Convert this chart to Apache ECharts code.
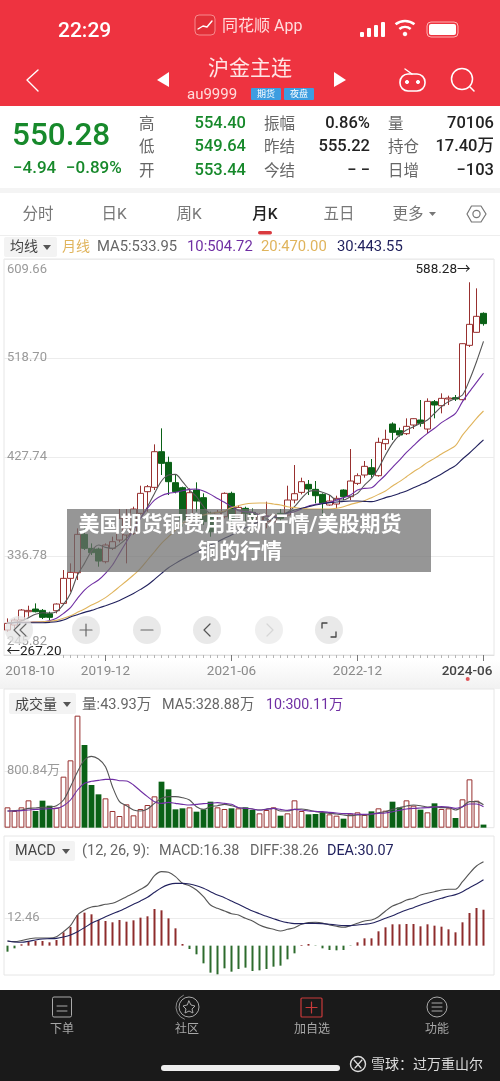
<!DOCTYPE html>
<html>
<head>
<meta charset="utf-8"/>
<title>沪金主连 月K</title>
<style>
    html, body { margin: 0; padding: 0; background: #fff; }
    #main { width: 500px; height: 1081px; }
</style>
</head>
<body>
<div id="main"></div>
<script src="https://cdn.jsdelivr.net/npm/echarts@6/dist/echarts.min.js"></script>
<script>
// months 2018-10 .. 2024-06, plus one empty slot so the panel runs a little past the last bar
var months = [];
for (var y = 2018, m = 10; y < 2024 || m <= 6; m++) {
    if (m > 12) { m = 1; y++; }
    months.push(y + '-' + (m < 10 ? '0' + m : m));
}
months.push('');
var dateTicks = ['2018-10', '2019-12', '2021-06', '2022-12', '2024-06'];

var opens = [268.75,273.35,277.94,285.60,288.05,286.82,283.77,286.52,293.25,316.23,
    321.43,356.66,343.80,343.18,331.54,343.80,351.45,356.05,357.58,375.96,
    395.87,399.85,432.62,422.83,404.14,399.54,368.30,397.40,390.36,374.43,
    375.04,372.90,394.34,373.81,380.56,376.88,368.30,368.30,368.30,375.96,
    374.43,388.21,395.25,402.61,398.01,393.41,383.62,384.54,397.40,391.27,
    403.52,411.18,417.92,410.57,439.98,458.05,451.92,449.16,457.13,461.72,
    453.45,478.57,474.89,481.02,482.24,480.41,530.33,542.28,559.74];
var closes = [274.88,277.94,287.13,286.82,285.60,280.39,280.39,292.65,316.23,321.74,
    356.66,343.80,339.81,332.14,346.86,349.92,371.36,369.83,379.94,394.34,
    400.46,432.62,421.90,405.06,395.87,369.83,394.95,387.29,368.30,359.11,
    376.88,394.34,371.36,381.47,375.96,371.36,372.90,373.51,374.43,371.36,
    388.21,394.03,405.06,398.32,392.19,385.15,387.29,389.74,391.27,405.67,
    410.57,419.15,411.79,441.20,443.96,450.39,447.94,455.90,462.95,458.66,
    478.87,475.50,481.63,481.94,481.02,531.86,549.63,556.98,550.28];
var lows = [267.20,270.28,277.02,281.00,284.98,278.86,277.94,284.07,292.34,303.98,
    314.70,342.27,337.67,326.95,330.01,342.27,349.31,330.01,356.05,374.43,
    377.49,397.40,411.18,392.81,394.34,363.70,359.11,377.49,365.23,354.52,
    368.30,371.36,365.23,371.36,368.30,363.70,359.11,362.17,365.23,368.30,
    372.90,385.15,393.41,392.81,385.15,372.90,383.01,380.56,388.21,388.21,
    401.99,408.73,408.73,409.65,434.16,443.34,446.41,447.94,453.45,455.60,
    449.47,463.25,467.84,475.50,479.18,479.79,528.80,541.97,548.40];
var highs = [279.47,279.47,288.05,291.11,293.25,288.05,285.60,293.25,323.89,330.01,
    362.17,364.62,348.39,344.41,348.39,354.52,379.94,379.94,382.08,401.38,
    401.99,439.36,454.06,428.03,411.18,400.46,398.93,404.45,394.34,377.49,
    379.02,395.25,395.87,383.62,382.08,380.56,375.96,386.68,375.96,379.94,
    401.38,420.37,408.73,406.59,405.67,394.34,392.81,392.19,398.01,435.07,
    412.71,424.05,425.88,445.49,452.84,459.58,454.67,463.25,463.25,480.10,
    481.63,480.10,486.23,484.08,484.69,532.17,588.28,582.71,560.66];

var ma5 = [274.9,275.8,277.0,280.1,283.2,284.7,284.4,285.6,292.3,302.4,
    319.3,330.0,341.3,346.9,344.7,343.8,347.5,353.0,360.7,371.4,
    382.1,394.3,405.7,411.2,411.8,405.1,397.4,391.3,382.1,376.0,
    376.6,377.5,382.1,379.0,377.5,376.9,374.4,371.4,372.9,374.4,
    376.9,382.1,389.7,395.9,396.8,395.3,392.8,388.2,388.2,391.3,
    394.3,402.0,408.1,417.3,429.6,440.3,447.9,452.5,455.6,458.7,
    461.7,467.8,474.0,478.6,481.6,484.7,498.5,515.3,533.95];
var ma10 = [275.5,275.8,275.8,275.8,276.1,276.4,277.3,279.5,284.1,289.3,
    297.9,305.5,310.7,314.7,320.8,328.5,339.2,349.9,360.7,371.4,
    380.6,388.2,392.2,394.3,395.3,396.8,398.0,398.3,396.5,393.4,
    389.7,386.1,382.1,378.4,377.5,376.9,374.4,373.5,372.9,372.9,
    376.0,377.5,379.9,382.7,384.2,385.2,386.1,388.2,390.4,392.8,
    397.4,398.9,399.5,405.1,411.2,418.2,424.9,432.0,438.1,444.3,
    449.5,454.1,459.3,463.3,467.8,478.6,487.8,496.3,504.72];
var ma20 = [275.5,275.8,275.8,275.8,276.1,276.4,276.7,277.6,279.5,281.9,
    285.0,288.1,291.7,294.8,298.5,303.4,308.6,313.8,319.3,325.4,
    333.1,340.7,348.4,354.5,360.7,366.8,369.8,372.9,374.4,376.0,
    376.9,378.1,381.2,383.0,384.5,385.2,385.5,385.5,384.5,383.6,
    382.1,381.2,380.6,379.9,379.9,379.9,379.9,380.6,382.1,384.2,
    385.8,387.6,390.4,393.4,396.5,401.1,405.1,409.6,414.2,418.2,
    422.8,426.5,430.5,434.2,438.1,447.9,455.6,463.3,470.00];
var ma30 = [275.2,275.5,275.5,275.5,275.5,275.5,275.8,276.4,277.9,280.7,
    282.8,285.0,286.8,289.0,291.1,293.3,296.0,299.1,302.4,306.1,
    310.1,315.3,320.8,326.0,330.0,333.7,337.1,340.4,343.8,346.9,
    349.9,353.0,356.1,359.7,362.8,365.8,368.3,369.8,371.4,373.5,
    376.6,379.0,380.6,382.1,383.6,384.8,385.8,386.4,387.0,387.3,
    387.3,387.0,386.7,388.2,390.4,392.2,394.3,396.5,399.5,402.3,
    405.1,408.7,412.1,416.1,419.8,425.9,431.4,437.5,443.55];

var volume = [290.8,238.4,290.8,390.9,238.4,386.1,314.6,286.0,729.4,962.9,
    1601.68,1182.2,610.2,476.7,419.5,238.4,166.8,333.7,176.4,267.0,
    324.2,448.1,657.8,548.2,262.2,276.5,290.8,228.8,262.2,371.8,
    290.8,267.0,276.5,276.5,290.8,252.7,205.0,252.7,290.8,171.6,
    205.0,390.9,238.4,190.7,195.4,209.7,190.7,171.6,128.7,200.2,
    219.3,181.1,233.6,276.5,243.1,371.8,290.8,390.9,314.6,257.4,
    219.3,348.0,267.0,276.5,138.2,405.2,691.2,386.1,43.93];
var volMa5 = [238.4,243.1,252.7,276.5,281.3,290.8,295.6,314.6,395.7,586.3,
    800.8,967.7,1020.1,982.0,872.4,586.3,371.8,314.6,252.7,238.4,
    267.0,348.0,419.5,443.3,443.3,429.0,395.7,300.3,262.2,300.3,
    314.6,333.7,314.6,286.0,276.5,267.0,252.7,267.0,276.5,238.4,
    238.4,262.2,267.0,252.7,228.8,219.3,205.0,195.4,181.1,171.6,
    181.1,181.1,190.7,214.5,228.8,262.2,286.0,309.9,324.2,314.6,
    295.6,300.3,286.0,286.0,252.7,300.3,371.8,371.8,328.88];
var volMa10 = [238.4,238.4,243.1,252.7,262.2,267.0,271.7,276.5,314.6,395.7,
    538.7,634.0,662.6,676.9,691.2,691.2,672.1,667.4,610.2,524.4,
    443.3,371.8,348.0,362.3,348.0,333.7,324.2,333.7,343.2,348.0,
    357.5,348.0,333.7,286.0,276.5,267.0,252.7,262.2,276.5,262.2,
    247.9,262.2,252.7,238.4,233.6,228.8,219.3,209.7,200.2,200.2,
    190.7,190.7,195.4,205.0,209.7,228.8,247.9,267.0,276.5,281.3,
    286.0,295.6,300.3,295.6,276.5,300.3,338.5,338.5,300.11];

var macdBars = [-2.74,-1.22,0.61,2.13,2.13,2.13,1.52,2.58,6.08,8.51,
    13.98,15.05,14.29,11.70,11.25,10.64,11.70,10.94,11.55,12.77,
    13.38,16.72,16.11,12.46,7.90,0.76,-1.52,-3.95,-8.06,-12.31,
    -13.07,-10.34,-11.86,-10.64,-10.03,-11.55,-11.25,-10.64,-9.58,-9.12,
    -6.23,-3.50,0.30,0.76,-0.15,-1.22,-1.98,-2.13,-1.98,-0.15,
    1.52,3.34,3.34,6.54,8.36,9.73,9.73,9.88,9.88,8.82,
    9.73,9.12,8.66,7.45,6.08,10.64,14.90,17.18,16.38];
var diffLine = [2.13,1.82,2.28,3.04,3.50,3.50,3.50,4.10,6.38,9.12,
    13.98,16.26,17.63,18.09,18.85,19.30,20.67,22.34,23.86,25.69,
    27.66,31.92,33.74,33.44,31.46,28.42,27.36,25.38,22.34,18.54,
    17.02,15.81,14.59,13.98,12.46,11.25,9.42,8.21,7.45,6.69,
    7.45,8.21,9.73,10.49,10.64,10.34,9.42,8.82,8.36,9.12,
    10.18,11.25,11.70,13.22,15.81,18.09,19.30,20.82,21.58,23.10,
    23.86,24.62,25.38,25.69,25.69,29.18,32.98,36.33,38.26];
var deaLine = [2.13,1.67,1.52,1.98,2.58,3.04,3.19,3.34,3.95,4.86,
    6.38,8.21,10.18,11.70,13.22,14.59,15.81,17.33,18.85,20.37,
    22.04,24.32,26.45,27.82,28.42,28.42,28.12,27.36,26.14,24.62,
    23.10,21.89,20.37,18.85,17.33,15.81,14.59,13.38,12.31,11.25,
    10.49,10.03,10.03,10.18,10.18,10.03,9.73,9.42,9.12,9.12,
    9.42,9.73,10.18,11.25,12.46,13.68,15.05,16.26,17.33,18.54,
    19.61,20.67,21.58,22.50,23.26,24.62,26.45,28.12,30.07];

var priceTicks = [245.82, 336.78, 427.74, 518.70, 609.66];
var volumeTicks = [800.84];
var macdTicks = [12.46];

var FONT = "Roboto, 'Noto Sans CJK SC', sans-serif";
var RED = '#ee3340', UP = '#98302f', DOWN = '#0a6116', GREEN = '#17892b';
var GREY = '#666', LABEL = '#9a9a9a', GOLD = '#e0b45c', PURPLE = '#6f2ea3', NAVY = '#22225e';

function txt(x, y, s, size, fill, extra) {
    // middle baseline sits a bit high for these fonts, so nudge down with the size
    var style = { x: x, y: y + size * 0.1, text: s, font: (extra && extra.weight || 400) + ' ' + size + 'px ' + FONT,
        fill: fill, textVerticalAlign: 'middle', textAlign: extra && extra.align || 'left' };
    return { type: 'text', z: 100, style: style };
}
function box(x, y, w, h, fill, r, z) {
    return { type: 'rect', z: z === undefined ? 100 : z, shape: { x: x, y: y, width: w, height: h, r: r || 0 }, style: { fill: fill } };
}
function poly(points, stroke, w, fill) {
    return { type: fill ? 'polygon' : 'polyline', z: 100, shape: { points: points },
        style: { stroke: stroke, lineWidth: w, fill: fill || null, lineCap: 'round', lineJoin: 'round' } };
}
function ring(cx, cy, r, stroke, w, fill) {
    return { type: 'circle', z: 100, shape: { cx: cx, cy: cy, r: r }, style: { stroke: stroke, lineWidth: w, fill: fill || null } };
}

var graphics = [
    // page bands behind the panels
    box(0, 0, 500, 106, RED, 0, 100),
    box(0, 188, 500, 5, '#f4f4f4', 0, -1),
    box(0, 235, 500, 1, '#eeeeee', 0, -1),
    box(0, 660, 500, 29, new echarts.graphic.LinearGradient(0, 0, 0, 1, [
        { offset: 0, color: '#ffffff' }, { offset: 1, color: '#f1f1f1' }]), 0, -1),
    box(0, 976, 500, 14, '#ffffff', 0, -1),
    // status bar
    txt(58, 30, '22:29', 21, '#fff', { weight: 500 }),
    { type: 'rect', z: 100, shape: { x: 195, y: 15, width: 20, height: 20, r: 4 }, style: { fill: '#e23039', stroke: '#f78a8e', lineWidth: 1 } },
    poly([[198, 29], [203, 26], [207, 27], [212, 21]], '#fff', 1.4),
    txt(222, 25, '同花顺 App', 16, '#ffdcdc'),
    box(360, 32, 4, 5, '#fff', 1), box(367, 28, 4, 9, '#fff', 1),
    box(374, 25, 4, 12, '#fff', 1), box(381, 22, 4, 15, '#fff', 1),
    { type: 'arc', z: 100, shape: { cx: 405, cy: 36, r: 15, startAngle: -2.25, endAngle: -0.89 }, style: { stroke: '#fff', lineWidth: 2.6, fill: null } },
    { type: 'arc', z: 100, shape: { cx: 405, cy: 36, r: 9, startAngle: -2.25, endAngle: -0.89 }, style: { stroke: '#fff', lineWidth: 2.6, fill: null } },
    ring(405, 34, 1.8, '#fff', 1, '#fff'),
    { type: 'rect', z: 100, shape: { x: 427, y: 22, width: 31, height: 15, r: 4 }, style: { stroke: '#ffb3b3', lineWidth: 1, fill: null } },
    box(429, 24, 27, 11, '#fff', 2),
    // title bar
    poly([[38, 70], [27, 80], [38, 91]], '#fff', 1.4),
    poly([[169, 72], [157, 80], [169, 87]], '#fff', 0, '#fff'),
    txt(250, 68, '沪金主连', 21, '#ffe4e4', { align: 'center' }),
    poly([[334, 72], [346, 80], [334, 87]], '#fff', 0, '#fff'),
    txt(187, 94, 'au9999', 15, '#ffdcdc'),
    box(251, 88, 30, 12, '#3d9de0', 1),
    txt(266, 94, '期货', 9, '#fff', { align: 'center' }),
    box(284, 88, 30, 12, '#3d9de0', 1),
    txt(299, 94, '夜盘', 9, '#fff', { align: 'center' }),
    { type: 'rect', z: 100, shape: { x: 400, y: 74, width: 25, height: 17, r: 8 }, style: { stroke: '#fff', lineWidth: 1.6, fill: null } },
    ring(407, 82, 1.6, '#fff', 1, '#fff'), ring(418, 82, 1.6, '#fff', 1, '#fff'),
    poly([[412, 74], [405, 69]], '#fff', 1.4),
    ring(462, 79, 10.5, '#fff', 1.5),
    poly([[470, 87], [474, 91]], '#fff', 1.5),
    // quote block
    txt(12, 134, '550.28', 31.5, GREEN, { weight: 500 }),
    txt(13, 167.5, '−4.94', 17, GREEN, { weight: 500 }),
    txt(66, 167.5, '−0.89%', 17, GREEN, { weight: 500 })
];

var quoteRows = [124, 147, 171];
var quoteCols = [
    { x: 139, names: ['高', '低', '开'], right: 246, vals: ['554.40', '549.64', '553.44'], color: GREEN },
    { x: 264, names: ['振幅', '昨结', '今结'], right: 370, vals: ['0.86%', '555.22', '− −'], color: '#222' },
    { x: 388, names: ['量', '持仓', '日增'], right: 494, vals: ['70106', '17.40万', '−103'], color: '#222' }
];
quoteCols.forEach(function (col) {
    quoteRows.forEach(function (ry, k) {
        graphics.push(txt(col.x, ry, col.names[k], 15.5, '#666'));
        graphics.push(txt(col.right, ry - 1.5, col.vals[k], 16.5, col.color, { weight: 500, align: 'right' }));
    });
});

var tabNames = [['分时', 38], ['日K', 114], ['周K', 189], ['月K', 265], ['五日', 339], ['更多', 408]];
tabNames.forEach(function (tab) {
    var on = tab[0] === '月K';
    graphics.push(txt(tab[1], 214, tab[0], 15.5, on ? '#222' : '#777', { align: 'center', weight: on ? 500 : 400 }));
});
graphics = graphics.concat([
    poly([[429, 212], [436, 212], [432.5, 216]], '#777', 0, '#777'),
    poly([[467, 214], [471.5, 206], [481, 206], [486, 214], [481, 222], [471.5, 222]], '#777', 1.2, '#fff'),
    ring(476.5, 214, 3.6, '#777', 1.2),
    box(258, 231, 14, 3.5, '#d93a3f', 1.7),
    // price legend
    box(4, 237, 53, 20, '#f3f3f3', 2),
    txt(10, 246, '均线', 14, '#444'),
    poly([[43, 245], [51, 245], [47, 250]], '#555', 0, '#555'),
    txt(62, 246, '月线', 14, GOLD),
    txt(97, 246, 'MA5:533.95', 14.8, GREY),
    txt(187, 246, '10:504.72', 14.8, PURPLE),
    txt(261, 246, '20:470.00', 14.8, GOLD),
    txt(337, 246, '30:443.55', 14.8, NAVY),
    ring(467.7, 679, 2, '#e0555a', 0, '#e0555a'),
    // volume legend
    box(9, 693, 67, 21, '#f3f3f3', 2),
    txt(15, 704, '成交量', 14, '#444'),
    poly([[63, 702], [71, 702], [67, 707]], '#555', 0, '#555'),
    txt(82, 704, '量:43.93万', 14.6, GREY),
    txt(162, 704, 'MA5:328.88万', 14.4, GREY),
    txt(266, 704, '10:300.11万', 14.2, PURPLE),
    // macd legend
    box(9, 841, 66, 20, '#f3f3f3', 2),
    txt(15, 850, 'MACD', 14.4, '#444'),
    poly([[62, 849], [70, 849], [66, 854]], '#555', 0, '#555'),
    txt(82, 850, '(12, 26, 9):', 14.6, GREY),
    txt(159, 850, 'MACD:16.38', 14.4, GREY),
    txt(250, 850, 'DIFF:38.26', 14.4, GREY),
    txt(327, 850, 'DEA:30.07', 14.4, NAVY),
    // floating chart buttons
    ring(19, 630, 14, '#ededed', 0, 'rgba(228,228,228,0.75)'),
    poly([[20, 624], [14, 630], [20, 636]], '#666', 1.1), poly([[26, 624], [20, 630], [26, 636]], '#666', 1.1),
    ring(86, 630, 14, '#ededed', 0, 'rgba(232,232,232,0.95)'),
    poly([[80, 630], [92, 630]], '#666', 1.2), poly([[86, 624], [86, 636]], '#666', 1.2),
    ring(147, 630, 14, '#ededed', 0, 'rgba(232,232,232,0.95)'),
    poly([[141, 630], [153, 630]], '#666', 1.2),
    ring(207, 630, 14, '#ededed', 0, 'rgba(232,232,232,0.95)'),
    poly([[210, 624], [204, 630], [210, 636]], '#555', 1.2),
    ring(269, 630, 14, '#f0f0f0', 0, 'rgba(238,238,238,0.95)'),
    poly([[267, 624], [273, 630], [267, 636]], '#d6d6d6', 1.2),
    ring(329, 630, 14, '#ededed', 0, 'rgba(232,232,232,0.95)'),
    poly([[322, 628], [322, 623], [327, 623]], '#444', 1.3), poly([[336, 632], [336, 637], [331, 637]], '#444', 1.3),
    // banner over the chart
    box(67, 509, 364, 63, 'rgba(110,110,110,0.72)'),
    txt(240, 523.5, '美国期货铜费用最新行情/美股期货', 21, '#fff', { align: 'center', weight: 700 }),
    txt(240, 551, '铜的行情', 21, '#fff', { align: 'center', weight: 700 }),
    // bottom bar
    box(0, 990, 500, 91, '#1a1a1a'),
    { type: 'rect', z: 100, shape: { x: 52.5, y: 997, width: 19, height: 20, r: 1.5 }, style: { stroke: '#aaa', lineWidth: 1, fill: null } },
    poly([[57, 1006], [67, 1006]], '#aaa', 1), poly([[57, 1011], [67, 1011]], '#aaa', 1),
    ring(189, 1007, 10, '#aaa', 1),
    poly([[189, 1001], [191, 1005], [195, 1006], [192, 1009], [193, 1013], [189, 1011], [185, 1013], [186, 1009], [183, 1006], [187, 1005]], '#aaa', 1, '#1a1a1a'),
    { type: 'arc', z: 100, shape: { cx: 189, cy: 1007, r: 13, startAngle: 1.9, endAngle: 4.3 }, style: { stroke: '#888', lineWidth: 1, fill: null } },
    { type: 'rect', z: 100, shape: { x: 301, y: 998, width: 21, height: 19, r: 1 }, style: { stroke: '#c83a3a', lineWidth: 1.2, fill: null } },
    poly([[306, 1007.5], [317, 1007.5]], '#c83a3a', 1.2), poly([[311.5, 1002], [311.5, 1013]], '#c83a3a', 1.2),
    ring(437, 1007, 10, '#aaa', 1),
    poly([[432, 1003], [442, 1003]], '#aaa', 1), poly([[432, 1007], [442, 1007]], '#aaa', 1), poly([[432, 1011], [442, 1011]], '#aaa', 1),
    txt(62, 1029, '下单', 12, '#a8a8a8', { align: 'center' }),
    txt(187, 1029, '社区', 12, '#a8a8a8', { align: 'center' }),
    txt(312, 1029, '加自选', 12, '#a8a8a8', { align: 'center' }),
    txt(437, 1029, '功能', 12, '#a8a8a8', { align: 'center' }),
    box(161, 1065, 179, 6, '#eeeeee', 3),
    ring(358, 1064, 7.5, '#ddd', 1.4),
    poly([[354, 1060], [361, 1068]], '#ddd', 1.2), poly([[362, 1060], [355, 1068]], '#ddd', 1.2),
    txt(371, 1064, '雪球：过万重山尔', 14, '#dddddd')
]);

var candles = opens.map(function (o, i) { return [o, closes[i], lows[i], highs[i]]; });
var volumeData = volume.map(function (v, i) {
    var rising = closes[i] >= opens[i];
    return { value: v, itemStyle: rising
        ? { color: '#fff', borderColor: UP, borderWidth: 1 }
        : { color: DOWN, borderColor: DOWN, borderWidth: 0 } };
});
var macdData = macdBars.map(function (v) {
    return { value: v, itemStyle: { color: v >= 0 ? '#8e2c2c' : '#2d6b2d' } };
});

function maLine(name, data, color, x, y, width) {
    return { name: name, type: 'line', data: data, xAxisIndex: x, yAxisIndex: y, symbol: 'none', smooth: 0.3, z: 5,
        lineStyle: { color: color, width: width || 1.1 }, silent: true };
}
function tickAxis(gridIndex, extra) {
    return Object.assign({ type: 'category', gridIndex: gridIndex, data: months, boundaryGap: true, position: 'bottom',
        axisLine: { show: false }, axisTick: { show: false }, axisLabel: { show: false }, splitLine: { show: false } }, extra);
}
function valueAxis(gridIndex, min, max, ticks, labelFn) {
    return { type: 'value', gridIndex: gridIndex, min: min, max: max, position: 'left',
        axisLine: { show: false },
        axisTick: { show: false, customValues: ticks },
        splitLine: { show: true, lineStyle: { color: '#ececec', width: 1 } },
        axisLabel: { inside: true, margin: 3, color: LABEL, fontSize: 13, fontFamily: FONT, customValues: ticks,
            formatter: labelFn,
            rich: { top: { padding: [22, 0, 0, 0], color: LABEL, fontSize: 13, fontFamily: FONT },
                mid: { padding: [0, 0, 1.5, 0], color: LABEL, fontSize: 13, fontFamily: FONT },
                low: { padding: [0, 0, 26, 0], color: LABEL, fontSize: 13, fontFamily: FONT } } } };
}

var chart = echarts.init(document.getElementById('main'), null, { renderer: 'canvas' });
chart.setOption({
    animation: false,
    backgroundColor: '#fff',
    grid: [
        { left: 4, top: 259, width: 490, height: 396, show: true, borderColor: '#e6e6e6', borderWidth: 1, z: 0 },
        { left: 4, top: 689, width: 490, height: 138.67, show: true, borderColor: '#e6e6e6', borderWidth: 1 },
        { left: 4, top: 836, width: 490, height: 139, show: true, borderColor: '#e6e6e6', borderWidth: 1 }
    ],
    xAxis: [
        tickAxis(0, { axisLine: { show: true, lineStyle: { color: '#e0e0e0' } },
            axisTick: { show: true, alignWithLabel: true, length: 3, lineStyle: { color: '#b5b5b5' },
                interval: function (i) { return i >= 8 && i < 69; } } }),
        tickAxis(0, { axisTick: { show: true, alignWithLabel: true, length: 6, lineStyle: { color: '#777' },
                interval: function (i) { return dateTicks.indexOf(months[i]) > 0; } },
            axisLabel: { show: true, margin: 10, fontFamily: FONT, fontSize: 13.5, color: '#8a8a8a', hideOverlap: false,
                interval: function (i) { return dateTicks.indexOf(months[i]) >= 0; },
                formatter: function (v) {
                    if (v === dateTicks[0]) return '{first|' + v + '}';
                    if (v === dateTicks[4]) return '{last|' + v + '}';
                    return v;
                },
                rich: { first: { padding: [0, 0, 0, 45], fontSize: 13.5, color: '#8a8a8a', fontFamily: FONT },
                    last: { padding: [0, 33, 0, 0], fontSize: 13.5, color: '#444', fontWeight: 500, fontFamily: FONT } } } }),
        tickAxis(1),
        tickAxis(2)
    ],
    yAxis: [
        valueAxis(0, 245.82, 609.66, priceTicks, function (v) {
            var s = v.toFixed(2);
            return v === priceTicks[4] ? '{top|' + s + '}' : v === priceTicks[0] ? '{low|' + s + '}' : '{mid|' + s + '}';
        }),
        valueAxis(1, 0, 1983.1, volumeTicks, function (v) { return '{mid|' + v.toFixed(2) + '万}'; }),
        valueAxis(2, -13.38, 50, macdTicks, function (v) { return '{mid|' + v.toFixed(2) + '}'; })
    ],
    series: [
        { name: '月K', type: 'candlestick', data: candles, xAxisIndex: 0, yAxisIndex: 0, barWidth: 5.8, z: 3,
            itemStyle: { color: '#fff', color0: DOWN, borderColor: UP, borderColor0: DOWN, borderWidth: 1 },
            markPoint: { symbol: 'circle', symbolSize: 0, silent: true, data: [
                { coord: [66, 588.28], value: 588.28, label: { formatter: '588.28→', position: 'inside', align: 'right', offset: [1, -13] } },
                { coord: [0, 267.20], value: 267.20, label: { formatter: '←267.20', position: 'inside', align: 'left', offset: [-1, 20] } }
            ], label: { color: '#222', fontSize: 13.5, fontFamily: FONT } } },
        maLine('MA5', ma5, '#555', 0, 0),
        maLine('MA10', ma10, PURPLE, 0, 0),
        maLine('MA20', ma20, GOLD, 0, 0),
        maLine('MA30', ma30, NAVY, 0, 0),
        { name: '成交量', type: 'bar', data: volumeData, xAxisIndex: 2, yAxisIndex: 1, barWidth: 5.8, z: 3 },
        maLine('量MA5', volMa5, '#555', 2, 1),
        maLine('量MA10', volMa10, PURPLE, 2, 1),
        { name: 'MACD', type: 'bar', data: macdData, xAxisIndex: 3, yAxisIndex: 2, barWidth: 2, z: 3 },
        maLine('DIFF', diffLine, '#555', 3, 2),
        maLine('DEA', deaLine, NAVY, 3, 2)
    ],
    graphic: graphics
});
</script>
</body>
</html>
